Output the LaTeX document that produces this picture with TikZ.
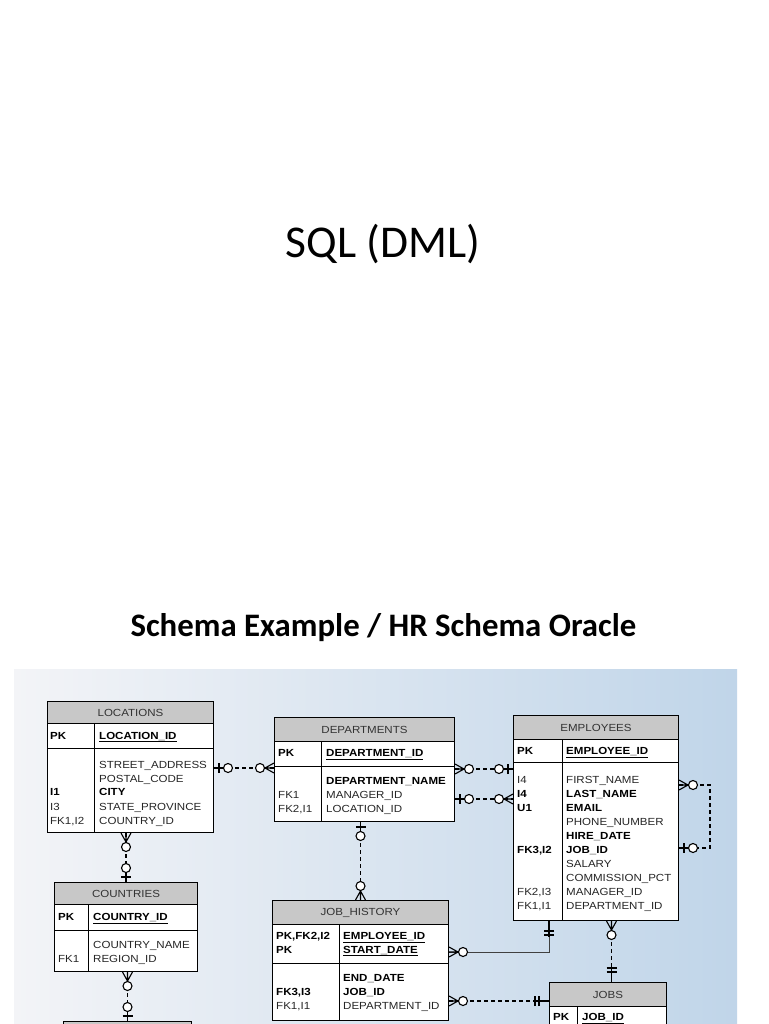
\documentclass[tikz,border=0pt]{standalone}
\usepackage{fontspec}
\newfontfamily\titlefont{Carlito}
\newfontfamily\erfont[FakeStretch=1.12]{Liberation Sans}
\definecolor{hdrgray}{RGB}{200,200,200}
\definecolor{bgleft}{RGB}{243,244,247}
\definecolor{bgmid}{RGB}{230,236,243}
\definecolor{bgright}{RGB}{192,213,233}
\tikzset{
  hdr/.style={draw, fill=hdrgray, line width=1pt, anchor=north west, inner sep=0pt,
    font=\erfont\fontsize{10.3}{12}\selectfont, text=black!80},
  cell/.style={draw, fill=white, line width=1pt, anchor=north west, inner sep=0pt},
  fld/.style={anchor=base west, inner sep=0pt, font=\erfont\fontsize{10.3}{12}\selectfont, text=black!85},
  keyfld/.style={fld, font=\erfont\bfseries\fontsize{10.3}{12}\selectfont, text=black},
  rel/.style={dashed, dash pattern=on 4pt off 3pt, line width=1.2pt},
  ident/.style={line width=0.9pt, draw=black!75},
  sym/.style={solid, line width=1.1pt},
  zeromany/.pic={
    \draw[sym] (0,-5) -- (9,0) -- (0,5) (0,0) -- (9,0);
    \draw[sym, fill=white] (14,0) circle[radius=4.5];
  },
  zeroone/.pic={
    \draw[sym] (0,0) -- (9.5,0) (5,-5) -- (5,5);
    \draw[sym, fill=white] (14,0) circle[radius=4.5];
  },
  oneone/.pic={
    \draw[sym] (0,0) -- (16,0) (10,-5) -- (10,5) (14,-5) -- (14,5);
  },
}
\begin{document}
\begin{tikzpicture}[x=1pt, y=-1pt]
\useasboundingbox (0,0) rectangle (768,1024);
\clip (0,0) rectangle (768,1024);
\fill[white] (0,0) rectangle (768,1024);

\node[font=\titlefont\fontsize{45.5}{50}\selectfont, anchor=base, inner sep=0pt] (title) at (383,258) {SQL (DML)};
\node[font=\titlefont\bfseries\fontsize{32.8}{36}\selectfont, anchor=base, inner sep=0pt] (subtitle) at (383.5,636) {Schema Example / HR Schema Oracle};

\shade[left color=bgleft, middle color=bgmid, right color=bgright] (14,669) rectangle (737,1024);

% LOCATIONS
\node[hdr, minimum width=166pt, minimum height=22pt] (loc) at (47,701) {LOCATIONS};
\node[cell, minimum width=166pt, minimum height=25pt] (locpk) at (47,723) {};
\node[cell, minimum width=166pt, minimum height=84pt] (locbody) at (47,748) {};
\draw[line width=1pt] (94,723) -- (94,832);
\node[keyfld] (lockey) at (50,739) {PK};
\node[keyfld] (locid) at (99,739) {\underline{LOCATION\_ID}};
\node[fld] (loca) at (99,768) {STREET\_ADDRESS};
\node[fld] (locb) at (99,782) {POSTAL\_CODE};
\node[keyfld] (locc) at (99,795.5) {CITY};
\node[fld] (locd) at (99,810) {STATE\_PROVINCE};
\node[fld] (loce) at (99,824.5) {COUNTRY\_ID};
\node[keyfld] (locic) at (50,795.5) {I1};
\node[fld] (locid3) at (50,810) {I3};
\node[fld] (locie) at (50,824.5) {FK1,I2};

% DEPARTMENTS
\node[hdr, minimum width=180pt, minimum height=24pt] (dept) at (274,717) {DEPARTMENTS};
\node[cell, minimum width=180pt, minimum height=25pt] (deptpk) at (274,741) {};
\node[cell, minimum width=180pt, minimum height=55pt] (deptbody) at (274,766) {};
\draw[line width=1pt] (321,741) -- (321,821);
\node[keyfld] (deptkey) at (278,756.5) {PK};
\node[keyfld] (deptid) at (326,756.5) {\underline{DEPARTMENT\_ID}};
\node[keyfld] (depta) at (326,784.5) {DEPARTMENT\_NAME};
\node[fld] (deptb) at (326,798.5) {MANAGER\_ID};
\node[fld] (deptc) at (326,812.5) {LOCATION\_ID};
\node[fld] (deptib) at (278,798.5) {FK1};
\node[fld] (deptic) at (278,812.5) {FK2,I1};

% EMPLOYEES
\node[hdr, minimum width=165pt, minimum height=24pt] (emp) at (513,715) {EMPLOYEES};
\node[cell, minimum width=165pt, minimum height=23pt] (emppk) at (513,739) {};
\node[cell, minimum width=165pt, minimum height=158pt] (empbody) at (513,762) {};
\draw[line width=1pt] (562,739) -- (562,920);
\node[keyfld] (empkey) at (517,754.7) {PK};
\node[keyfld] (empid) at (566,754.7) {\underline{EMPLOYEE\_ID}};
\node[fld] (empa) at (566,783) {FIRST\_NAME};
\node[keyfld] (empb) at (566,797.1) {LAST\_NAME};
\node[keyfld] (empc) at (566,811.2) {EMAIL};
\node[fld] (empd) at (566,825.3) {PHONE\_NUMBER};
\node[keyfld] (empe) at (566,839.4) {HIRE\_DATE};
\node[keyfld] (empf) at (566,853.5) {JOB\_ID};
\node[fld] (empg) at (566,867.6) {SALARY};
\node[fld] (emph) at (566,881.7) {COMMISSION\_PCT};
\node[fld] (empi) at (566,895.8) {MANAGER\_ID};
\node[fld] (empj) at (566,909.9) {DEPARTMENT\_ID};
\node[fld] (empia) at (517,783) {I4};
\node[keyfld] (empib) at (517,797.1) {I4};
\node[keyfld] (empic) at (517,811.2) {U1};
\node[keyfld] (empif) at (517,853.5) {FK3,I2};
\node[fld] (empii) at (517,895.8) {FK2,I3};
\node[fld] (empij) at (517,909.9) {FK1,I1};

% COUNTRIES
\node[hdr, minimum width=143pt, minimum height=22pt] (ctry) at (54,882) {COUNTRIES};
\node[cell, minimum width=143pt, minimum height=26pt] (ctrypk) at (54,904) {};
\node[cell, minimum width=143pt, minimum height=41pt] (ctrybody) at (54,930) {};
\draw[line width=1pt] (88,904) -- (88,971);
\node[keyfld] (ctrykey) at (58,920.4) {PK};
\node[keyfld] (ctryid) at (93,920.4) {\underline{COUNTRY\_ID}};
\node[fld] (ctrya) at (93,948.7) {COUNTRY\_NAME};
\node[fld] (ctryb) at (93,962) {REGION\_ID};
\node[fld] (ctryib) at (58,962) {FK1};

% REGIONS (cut off)
\node[hdr, minimum width=128pt, minimum height=24pt] (reg) at (63,1021) {};

% JOB_HISTORY
\node[hdr, minimum width=176pt, minimum height=24pt] (jh) at (272,900) {JOB\_HISTORY};
\node[cell, minimum width=176pt, minimum height=39pt] (jhpk) at (272,924) {};
\node[cell, minimum width=176pt, minimum height=57pt] (jhbody) at (272,963) {};
\draw[line width=1pt] (339,924) -- (339,1020);
\node[keyfld] (jhkeya) at (276,939.7) {PK,FK2,I2};
\node[keyfld] (jhkeyb) at (276,953) {PK};
\node[keyfld] (jhida) at (343,939.7) {\underline{EMPLOYEE\_ID}};
\node[keyfld] (jhidb) at (343,953) {\underline{START\_DATE}};
\node[keyfld] (jha) at (343,981.4) {END\_DATE};
\node[keyfld] (jhb) at (343,995.8) {JOB\_ID};
\node[fld] (jhc) at (343,1009.7) {DEPARTMENT\_ID};
\node[keyfld] (jhib) at (276,995.8) {FK3,I3};
\node[fld] (jhic) at (276,1009.7) {FK1,I1};

% JOBS
\node[hdr, minimum width=117pt, minimum height=24pt] (jobs) at (549,982) {JOBS};
\node[cell, minimum width=117pt, minimum height=30pt] (jobspk) at (549,1006) {};
\draw[line width=1pt] (577,1006) -- (577,1036);
\node[keyfld] (jobskey) at (553,1020.5) {PK};
\node[keyfld] (jobsid) at (582,1020.5) {\underline{JOB\_ID}};

% relations
\draw[rel] ([yshift=-20pt]locbody.north east) -- ([yshift=-2pt]deptbody.north west);
\pic at ([yshift=-20pt]locbody.north east) {zeroone};
\pic[rotate=180] at ([yshift=-2pt]deptbody.north west) {zeromany};

\draw[rel] ([yshift=-3pt]deptbody.north east) -- ([yshift=-7pt]empbody.north west);
\pic at ([yshift=-3pt]deptbody.north east) {zeromany};
\pic[rotate=180] at ([yshift=-7pt]empbody.north west) {zeroone};

\draw[rel] ([yshift=-33pt]deptbody.north east) -- ([yshift=-37pt]empbody.north west);
\pic at ([yshift=-33pt]deptbody.north east) {zeroone};
\pic[rotate=180] at ([yshift=-37pt]empbody.north west) {zeromany};

\draw[rel] ([yshift=-23pt]empbody.north east) -- ++(31,0) |- ([yshift=-86pt]empbody.north east);
\pic at ([yshift=-23pt]empbody.north east) {zeromany};
\pic at ([yshift=-86pt]empbody.north east) {zeroone};

\draw[rel] (deptbody.south -| jh.north) -- (jh.north);
\pic[rotate=-90] at (deptbody.south -| jh.north) {zeroone};
\pic[rotate=90] at (jh.north) {zeromany};

\draw[ident] ([xshift=36pt]empbody.south west) |- ([yshift=-28pt]jhpk.north east);
\pic[rotate=-90] at ([xshift=36pt]empbody.south west) {oneone};
\pic at ([yshift=-28pt]jhpk.north east) {zeromany};

\draw[rel] ([yshift=-38pt]jhbody.north east) -- ([yshift=-19pt]jobs.north west);
\pic at ([yshift=-38pt]jhbody.north east) {zeromany};
\pic[rotate=180] at ([yshift=-19pt]jobs.north west) {oneone};

\draw[rel] ([xshift=15.5pt]empbody.south) -- ([xshift=3.5pt]jobs.north);
\pic[rotate=-90] at ([xshift=15.5pt]empbody.south) {zeromany};
\pic[rotate=90] at ([xshift=3.5pt]jobs.north) {oneone};

\draw[rel] (locbody.south -| ctry.north) -- (ctry.north);
\pic[rotate=-90] at (locbody.south -| ctry.north) {zeromany};
\pic[rotate=90] at (ctry.north) {zeroone};

\draw[rel] (ctrybody.south -| reg.north) -- (reg.north);
\pic[rotate=-90] at (ctrybody.south -| reg.north) {zeromany};
\pic[rotate=90] at (reg.north) {zeroone};
\end{tikzpicture}
\end{document}
